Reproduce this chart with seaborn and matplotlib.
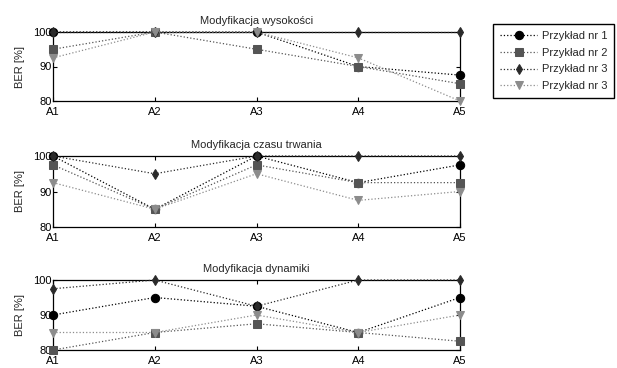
import matplotlib
matplotlib.use("Agg")
import matplotlib.pyplot as plt
import pandas as pd
import seaborn as sns

kategorie = ["A1", "A2", "A3", "A4", "A5"]
tytuly = ["Modyfikacja wysokości", "Modyfikacja czasu trwania", "Modyfikacja dynamiki"]
etykiety = ["Przykład nr 1", "Przykład nr 2", "Przykład nr 3", "Przykład nr 3"]

# BER [%] dla kolejnych przykładów, osobno dla każdego wykresu
wysokosc = [
    [100, 100, 100, 90, 87.5],
    [95, 100, 95, 90, 85],
    [100, 100, 100, 100, 100],
    [92.5, 100, 100, 92.5, 80],
]
czas = [
    [100, 85, 100, 92.5, 97.5],
    [97.5, 85, 97.5, 92.5, 92.5],
    [100, 95, 100, 100, 100],
    [92.5, 85, 95, 87.5, 90],
]
dynamika = [
    [90, 95, 92.5, 85, 95],
    [80, 85, 87.5, 85, 82.5],
    [97.5, 100, 92.5, 100, 100],
    [85, 85, 90, 85, 90],
]

kolory = ["#000000", "#555555", "#2a2a2a", "#8c8c8c"]
markery = ["o", "s", "d", "v"]
rozmiary = [6, 6, 5, 6]

sns.set_style("white")
plt.rcParams["font.family"] = ["Liberation Sans", "DejaVu Sans"]

fig = plt.figure(figsize=(6.17, 3.68), dpi=100)
W, H = 617, 368
pozycje = [(32, 101), (156, 227), (280, 350)]
dane = [wysokosc, czas, dynamika]

axes = []
for (top, bottom), seria, tytul in zip(pozycje, dane, tytuly):
    ax = fig.add_axes([53 / W, 1 - bottom / H, (460 - 53) / W, (bottom - top) / H])
    for i, wart in enumerate(seria):
        df = pd.DataFrame({"x": range(len(kategorie)), "BER": wart})
        sns.lineplot(data=df, x="x", y="BER", ax=ax, color=kolory[i],
                     marker=markery[i], markersize=rozmiary[i],
                     markeredgecolor=kolory[i], linestyle=":", linewidth=0.9,
                     label=etykiety[i], legend=False, clip_on=False, zorder=3)
    ax.set_xlim(0, 4)
    ax.set_ylim(80, 100)
    ax.set_xticks(range(len(kategorie)))
    ax.set_xticklabels(kategorie)
    ax.set_yticks([80, 90, 100])
    ax.set_xlabel("")
    ax.set_ylabel("BER [%]", fontsize=8, labelpad=6)
    ax.set_title(tytul, fontsize=8, pad=6)
    ax.tick_params(direction="in", length=3, width=0.8, labelsize=8, pad=1,
                   top=True, right=True, bottom=True, left=True, colors="black")
    ax.tick_params(axis="x", pad=4)
    for s in ax.spines.values():
        s.set_color("black")
        s.set_linewidth(0.9)
    axes.append(ax)

uchwyty, _ = axes[0].get_legend_handles_labels()
fig.legend(uchwyty, etykiety, loc="upper left", bbox_to_anchor=(493 / W, 1 - 24 / H),
           fontsize=8, frameon=True, fancybox=False, edgecolor="black",
           borderpad=0.6, labelspacing=0.62, handlelength=3.4, handletextpad=0.4,
           framealpha=1, borderaxespad=0)

fig.savefig("out.png", dpi=100)
